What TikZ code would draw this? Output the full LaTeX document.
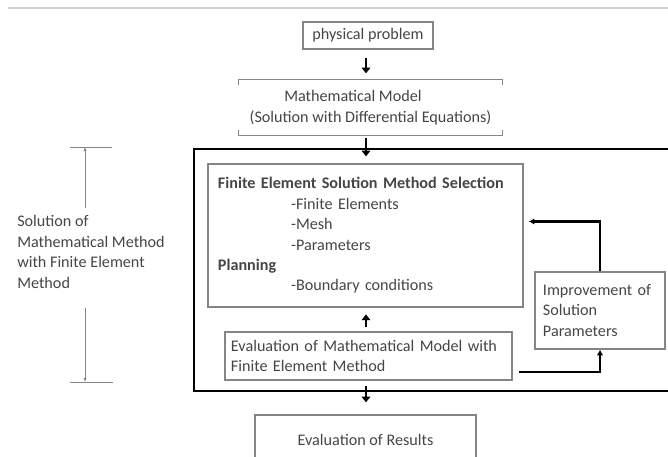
\documentclass[tikz,border=0pt]{standalone}
\usepackage{fontspec}
\setmainfont{Carlito}
\usetikzlibrary{arrows.meta,positioning}

\definecolor{txtgray}{HTML}{454545}
\definecolor{boxgray}{HTML}{858585}

\tikzset{
  stepbox/.style={draw=boxgray,line width=0.9pt,text=txtgray,inner sep=0pt,
    font=\fontsize{11.5}{14.5}\selectfont},
  leftbox/.style={stepbox,align=left,inner xsep=#1},
  flowarrow/.style={line width=2pt,-{Triangle[length=4pt,width=6pt]}},
  loopline/.style={line width=1.5pt,-{Latex[length=4pt,width=4.5pt]}},
  dimline/.style={boxgray,line width=0.7pt},
}

\begin{document}
\begin{tikzpicture}[x=0.025cm,y=-0.025cm]

   \useasboundingbox (0,0) rectangle (668,457);
   \clip (0,0) rectangle (668,457);

   \draw[gray!35,line width=0.8pt] (8,8) -- (668,8);

   \node[stepbox,minimum width=3.25cm,minimum height=0.675cm] (phys) at (368,35.5) {physical problem};

   \node[stepbox,draw=none,align=center,minimum width=6.575cm,minimum height=1.375cm] (math) at (370.5,107.5)
     {Mathematical Model\hspace*{25pt}\\(Solution with Differential Equations)};
   \draw[boxgray,line width=0.9pt] ([yshift=-0.15cm]math.north west) |- (math.north east) -- ++(0,6);
   \draw[boxgray,line width=0.9pt] ([yshift=0.15cm]math.south west) |- (math.south east) -- ++(0,-6);

   \node[draw,line width=2pt,minimum width=12.025cm,minimum height=6.05cm] (solve) at (434.5,270) {};

   \node[leftbox=0.25cm,text width=7.375cm,minimum height=3.575cm] (fesel) at (365.5,235.5)
     {\textbf{Finite Element Solution Method Selection}\\
      \hspace*{52pt}-Finite Elements\\
      \hspace*{52pt}-Mesh\\
      \hspace*{52pt}-Parameters\\
      \textbf{Planning}\\
      \hspace*{52pt}-Boundary conditions};

   \node[leftbox=0.15cm,text width=6.875cm,minimum height=1.2cm] (evalm) at (368.5,356)
     {Evaluation of Mathematical Model with\\Finite Element Method};

   \node[leftbox=0.2cm,text width=2.85cm,minimum height=1.925cm] (improve) at (600,310.5)
     {Improvement of\\Solution\\Parameters};

   \node[stepbox,minimum width=5.525cm,minimum height=1.25cm] (results) at (365.5,440) {Evaluation of Results};

   \draw[flowarrow,shorten <=0.22cm,shorten >=0.15cm] (phys.south -| 366,0) -- (math.north -| 366,0);
   \draw[flowarrow,shorten <=0.07cm,shorten >=-0.22cm] (math.south -| 366,0) -- (solve.north -| 366,0);
   \draw[flowarrow,shorten <=0.1cm,shorten >=0.17cm] (evalm.north -| 366,0) -- (fesel.south -| 366,0);
   \draw[flowarrow,shorten <=-0.17cm,shorten >=0.3cm] (solve.south -| 366,0) -- (results.north -| 366,0);

   \draw[loopline] ([shift={(6,16)}]evalm.east) -| (improve.south);
   \draw[loopline] (improve.north) |- ([shift={(5,-14)}]fesel.east);

   \node[text=txtgray,align=left,inner sep=0pt,anchor=west,font=\fontsize{11.5}{14.5}\selectfont] (dimtxt) at (17,252)
     {Solution of\\Mathematical Method\\with Finite Element\\Method};
   \coordinate (dimtop) at (85,147);
   \coordinate (dimbot) at (85,382);
   \coordinate (dimA) at (85,208);
   \coordinate (dimB) at (85,308);
   \draw[dimline] (70,147) -- (112,147);
   \draw[dimline] (70,382) -- (113,382);
   \draw[dimline,-{Latex[length=3pt,width=2.5pt]}] (dimA) -- (dimtop);
   \draw[dimline,-{Latex[length=3pt,width=2.5pt]}] (dimB) -- (dimbot);

\end{tikzpicture}
\end{document}
